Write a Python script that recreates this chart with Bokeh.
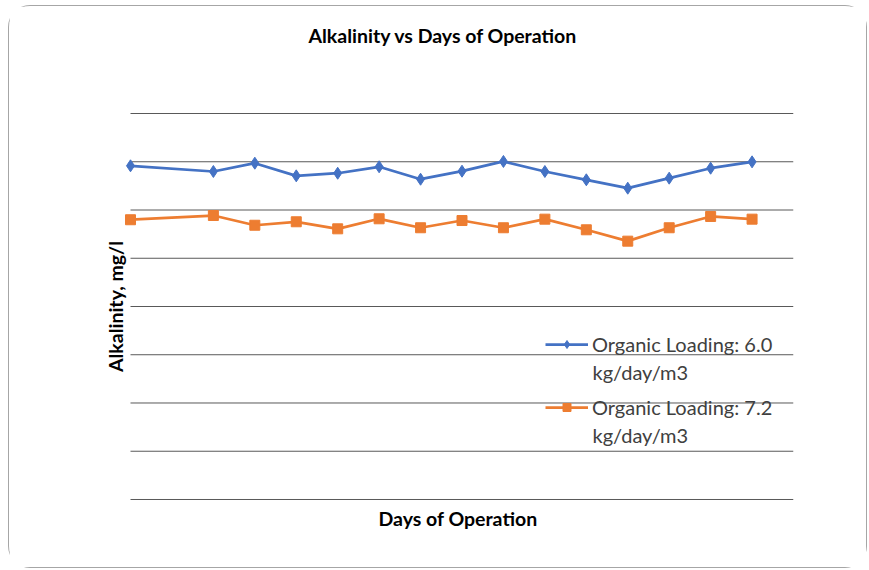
from bokeh.plotting import figure
from bokeh.models import Range1d, FixedTicker, Legend, LegendItem, Label, Title, LinearAxis
from bokeh.embed import file_html
from bokeh.resources import INLINE

days = [1, 3, 4, 5, 6, 7, 8, 9, 10, 11, 12, 13, 14, 15, 16]
alk_60 = [3458, 3399, 3485, 3354, 3381, 3448, 3319, 3402, 3503, 3399, 3313, 3226, 3330, 3433, 3499]
alk_72 = [2899, 2943, 2842, 2878, 2805, 2909, 2816, 2891, 2816, 2905, 2795, 2677, 2816, 2933, 2905]
day_axis = [1, 17]
grid_ticks = [0, 500, 1000, 1500, 2000, 2500, 3000, 3500, 4000]
legend_line1 = ["Organic Loading: 6.0", "Organic Loading: 7.2"]
legend_line2 = ["kg/day/m3", "kg/day/m3"]
title_text = "Alkalinity vs Days of Operation"

FONT = "Lato"
BLUE = "#4472C4"
ORANGE = "#ED7D31"

px_per_day = 663 / (day_axis[1] - day_axis[0])
pad = 8 / px_per_day

p = figure(width=859, height=563, output_backend="svg", toolbar_location=None,
           x_range=Range1d(day_axis[0] - pad, day_axis[1]), y_range=Range1d(-10.4, 4010.4),
           min_border_left=113, min_border_right=75, min_border_top=106, min_border_bottom=69)
p.styles = {"border": "1px solid #a6a6a6", "border-radius": "22px",
            "margin-left": "8px", "margin-top": "5px"}
p.outline_line_color = None
p.background_fill_color = "white"
p.border_fill_color = "white"

bottom_axis = p.below[0]
left_axis = p.left[0]

# invisible spacer axis above the frame, then the title outside it
spacer = LinearAxis(ticker=FixedTicker(ticks=[]), axis_line_color=None,
                    major_tick_line_color=None, minor_tick_line_color=None,
                    major_label_text_font_size="0px", axis_label=" ",
                    axis_label_text_font=FONT, axis_label_text_font_size="19.5px",
                    axis_label_text_font_style="bold", axis_label_standoff=39)
p.add_layout(spacer, "above")
p.add_layout(Title(text=title_text, align="left", offset=186,
                   text_font=FONT, text_font_size="19.5px",
                   text_font_style="bold", text_color="black", standoff=2), "above")

p.xgrid.visible = False
p.ygrid.visible = False
p.segment(x0=[day_axis[0]] * len(grid_ticks), y0=grid_ticks,
          x1=[day_axis[1]] * len(grid_ticks), y1=grid_ticks,
          line_color="#595959", line_width=1)

for ax in (bottom_axis, left_axis):
    ax.ticker = FixedTicker(ticks=[])
    ax.axis_line_color = None
    ax.major_tick_line_color = None
    ax.minor_tick_line_color = None
    ax.major_label_text_font_size = "0px"
    ax.axis_label_text_font = FONT
    ax.axis_label_text_font_style = "bold"
    ax.axis_label_text_font_size = "19.5px"
    ax.axis_label_text_color = "black"
bottom_axis.axis_label = "Days of Operation"
bottom_axis.axis_label_standoff = 6
left_axis.axis_label = "Alkalinity, mg/l"
left_axis.axis_label_standoff = -4

l1 = p.line(days, alk_60, line_color=BLUE, line_width=2.75)
m1 = p.scatter(days, alk_60, marker="diamond", size=12, fill_color=BLUE, line_color=BLUE)
l2 = p.line(days, alk_72, line_color=ORANGE, line_width=2.75)
m2 = p.scatter(days, alk_72, marker="square", size=10, fill_color=ORANGE, line_color=ORANGE)

legend = Legend(items=[LegendItem(label=legend_line1[0], renderers=[l1, m1]),
                       LegendItem(label=legend_line1[1], renderers=[l2, m2])],
                location=(423, 81), background_fill_alpha=0, border_line_color=None,
                label_text_font=FONT, label_text_font_size="20px", label_text_color="#404040",
                glyph_width=43, label_standoff=4, spacing=39, padding=0, margin=0)
p.add_layout(legend, "center")

for txt, ypos in zip(legend_line2, [129, 66]):
    p.add_layout(Label(x=470, y=ypos, x_units="screen", y_units="screen", text=txt,
                       text_font=FONT, text_font_size="20px", text_color="#404040",
                       text_baseline="middle", text_align="left"))

open("out.html", "w").write(file_html(p, INLINE))
